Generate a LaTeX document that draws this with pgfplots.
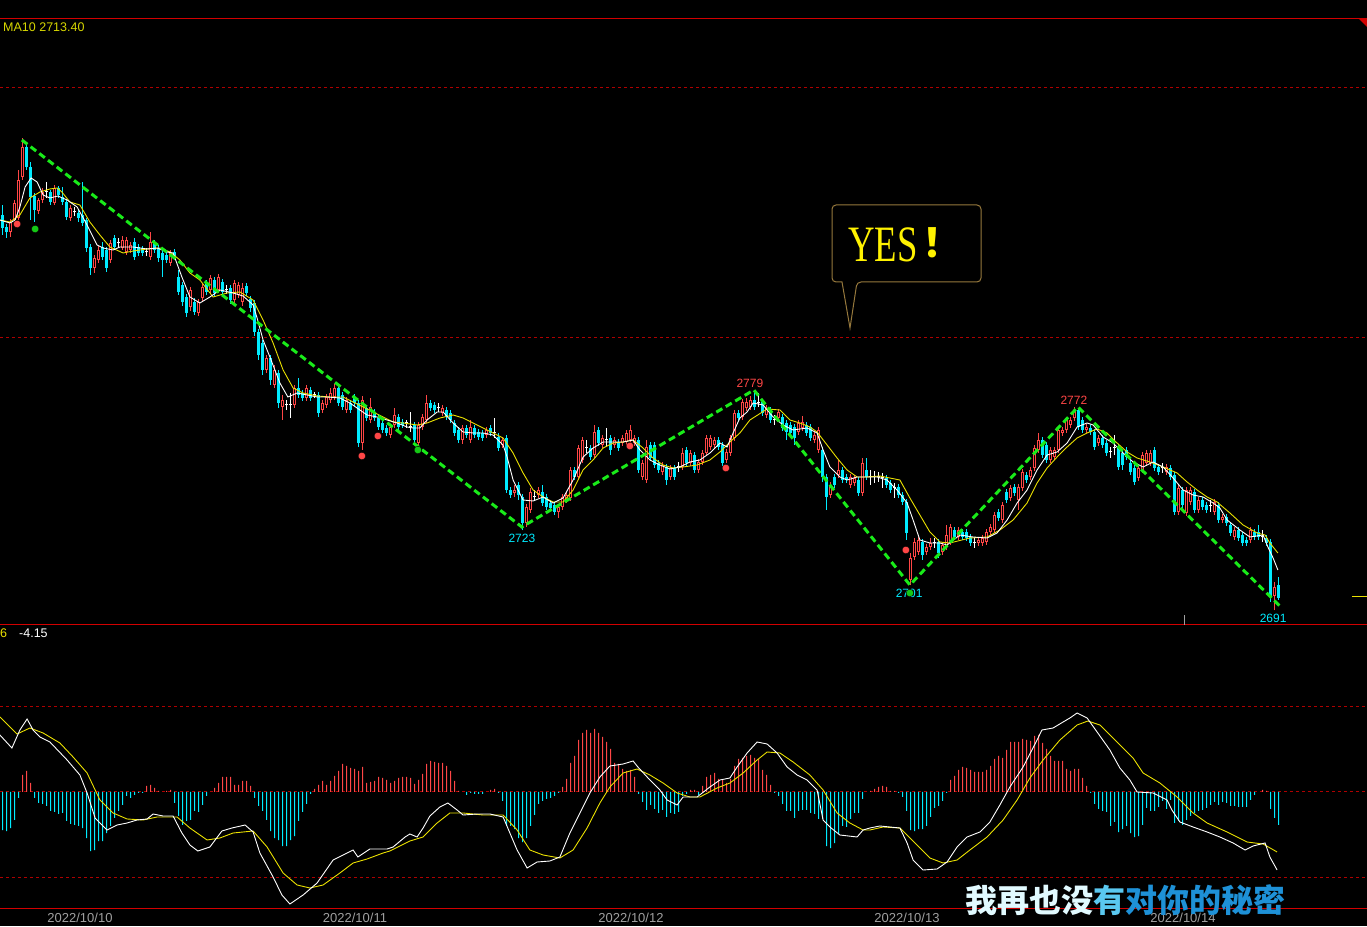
\documentclass[border=0pt]{standalone}
\usepackage{pgfplots}
\pgfplotsset{compat=1.18}
\usepackage{pgfplotstable}
\usepackage{fontspec}
\setmainfont{Liberation Sans}
\newfontfamily\cjk{Noto Sans CJK SC}
\newfontfamily\yesfont{Liberation Serif}

\definecolor{upred}{RGB}{255,70,70}
\definecolor{dncyan}{RGB}{0,235,255}
\definecolor{gridred}{RGB}{175,0,0}
\definecolor{linered}{RGB}{210,0,0}
\definecolor{zig}{RGB}{25,235,25}
\definecolor{mayel}{RGB}{235,225,0}
\definecolor{datagray}{RGB}{160,160,160}
\definecolor{boxgold}{RGB}{150,120,60}
\definecolor{malabel}{RGB}{215,215,0}

% i open high low close macd-histogram
\pgfplotstableread{
i o h l c m
0 2849.2 2853.2 2841.2 2844.0 -3.8
1 2844.4 2845.6 2840.0 2842.4 -3.9
2 2842.4 2847.6 2840.4 2846.4 -3.6
3 2847.2 2855.2 2845.6 2854.0 -2.8
4 2848.0 2867.2 2847.2 2863.2 -0.6
5 2864.4 2880.0 2863.2 2876.4 1.7
6 2876.4 2877.2 2867.2 2868.4 2.1
7 2868.4 2870.4 2847.2 2856.4 0.9
8 2856.8 2858.0 2846.4 2851.2 -0.6
9 2850.8 2856.0 2849.6 2855.2 -1.1
10 2855.2 2860.0 2854.0 2858.4 -1.2
11 2858.4 2862.4 2856.0 2858.4 -1.4
12 2858.4 2859.2 2853.2 2854.4 -1.9
13 2854.0 2861.2 2853.2 2860.0 -2.0
14 2860.0 2860.8 2856.0 2857.2 -2.2
15 2856.4 2860.4 2853.2 2854.4 -2.1
16 2854.4 2855.6 2847.2 2848.4 -2.9
17 2848.0 2853.2 2846.8 2852.0 -3.2
18 2850.4 2852.4 2848.8 2850.4 -3.3
19 2850.0 2851.2 2846.4 2848.0 -3.4
20 2849.2 2862.4 2844.8 2846.0 -3.6
21 2847.2 2848.0 2834.4 2836.0 -4.6
22 2836.4 2837.6 2825.2 2828.0 -5.9
23 2828.0 2833.2 2826.0 2832.0 -5.8
24 2831.2 2836.8 2830.0 2835.2 -4.9
25 2836.4 2838.4 2831.2 2832.4 -4.9
26 2835.2 2836.4 2826.4 2828.0 -4.1
27 2831.2 2839.2 2830.0 2838.0 -3.4
28 2840.0 2841.2 2835.2 2836.4 -2.6
29 2838.0 2840.0 2836.0 2838.0 -1.9
30 2836.0 2840.8 2835.2 2839.2 -1.3
31 2834.4 2840.4 2833.2 2839.2 -0.4
32 2835.2 2838.4 2834.0 2837.2 -0.6
33 2838.4 2840.0 2831.2 2832.4 -0.3
34 2836.4 2837.6 2832.8 2834.0 -0.1
35 2836.0 2836.8 2832.8 2834.0 -0.1
36 2834.4 2836.0 2832.8 2834.4 0.6
37 2832.4 2842.4 2831.2 2838.4 0.7
38 2838.0 2839.2 2834.0 2835.2 0.4
39 2836.0 2837.2 2830.4 2832.0 0.1
40 2834.0 2835.2 2824.4 2831.2 0
41 2833.2 2834.4 2830.0 2831.2 0.1
42 2830.0 2835.2 2828.8 2834.0 0.2
43 2834.4 2835.6 2831.2 2832.4 -1.1
44 2824.4 2827.2 2817.2 2818.4 -2.4
45 2821.2 2822.4 2812.8 2814.4 -3.3
46 2816.4 2817.6 2808.4 2810.0 -2.9
47 2812.4 2820.4 2810.8 2819.2 -2.8
48 2814.4 2816.0 2809.2 2810.4 -1.9
49 2810.0 2815.6 2808.8 2814.4 -2.0
50 2816.0 2821.6 2814.8 2820.4 -1.3
51 2822.0 2823.2 2817.2 2818.4 -0.4
52 2819.2 2825.2 2818.0 2824.0 0
53 2823.2 2824.4 2816.8 2818.0 0.4
54 2819.2 2825.6 2818.0 2824.4 0.9
55 2822.4 2823.6 2817.2 2818.4 1.5
56 2819.2 2821.2 2817.6 2819.2 1.5
57 2820.0 2821.2 2813.6 2815.2 1.5
58 2815.2 2823.2 2814.0 2822.0 0.7
59 2817.2 2822.4 2816.0 2821.2 0.7
60 2814.4 2822.0 2812.8 2820.0 1.1
61 2820.8 2822.0 2816.8 2818.0 1.1
62 2815.6 2816.8 2810.4 2812.0 0.6
63 2814.0 2815.2 2800.8 2802.4 -0.6
64 2802.4 2803.6 2791.2 2793.2 -1.4
65 2798.0 2799.2 2785.2 2787.2 -1.9
66 2787.2 2793.2 2786.0 2792.0 -2.8
67 2792.0 2793.2 2781.2 2783.2 -3.9
68 2781.2 2789.2 2780.0 2787.2 -4.6
69 2786.0 2787.2 2772.0 2774.0 -4.8
70 2772.4 2777.2 2767.2 2775.2 -5.4
71 2773.2 2775.2 2771.2 2773.2 -5.4
72 2773.2 2778.0 2768.0 2773.2 -4.8
73 2773.2 2781.2 2772.0 2780.0 -4.4
74 2780.0 2784.0 2776.0 2777.2 -2.9
75 2778.0 2779.2 2774.8 2776.0 -2.0
76 2776.0 2781.2 2774.8 2780.0 -1.2
77 2779.2 2780.4 2774.8 2776.0 -0.2
78 2777.2 2778.4 2776.0 2777.2 0.3
79 2777.2 2778.4 2768.4 2770.0 0.7
80 2771.2 2775.2 2770.0 2774.0 1.1
81 2773.2 2777.6 2772.0 2776.4 0.7
82 2775.2 2780.0 2774.0 2778.0 1.1
83 2776.4 2781.6 2775.2 2780.0 1.6
84 2780.0 2781.2 2772.8 2774.0 2.1
85 2777.2 2778.4 2771.2 2772.4 2.8
86 2771.2 2776.4 2770.0 2775.2 2.6
87 2774.0 2775.2 2770.0 2771.2 2.4
88 2776.4 2777.6 2772.8 2774.0 2.3
89 2774.0 2775.2 2756.4 2758.0 2.1
90 2758.0 2776.8 2755.2 2775.2 2.5
91 2772.0 2773.2 2766.8 2768.0 0.9
92 2767.2 2776.0 2766.0 2772.4 1.0
93 2770.4 2771.6 2766.8 2768.0 1.1
94 2768.0 2769.2 2763.2 2764.4 1.5
95 2766.0 2767.2 2762.0 2763.2 1.4
96 2764.0 2765.2 2760.8 2762.0 1.2
97 2761.2 2765.6 2760.0 2764.4 0.9
98 2765.2 2772.0 2764.0 2769.2 1.1
99 2768.4 2769.6 2763.2 2764.4 1.4
100 2766.4 2767.6 2764.0 2765.2 1.5
101 2766.0 2767.2 2764.0 2766.0 1.5
102 2764.4 2770.4 2762.4 2764.4 1.4
103 2765.2 2766.4 2758.0 2759.2 0.8
104 2758.0 2766.4 2756.8 2765.2 1.2
105 2764.4 2769.6 2763.2 2768.4 1.8
106 2767.2 2777.2 2766.0 2774.0 2.8
107 2774.0 2775.2 2770.8 2772.0 3.1
108 2773.2 2774.4 2770.0 2771.2 3.0
109 2772.0 2774.0 2770.4 2772.0 2.9
110 2770.0 2773.2 2768.8 2772.0 2.9
111 2771.2 2772.4 2767.2 2768.4 2.6
112 2770.0 2771.2 2766.0 2767.2 2.1
113 2766.0 2767.2 2760.8 2762.0 1.1
114 2763.2 2764.4 2758.0 2759.2 0.1
115 2759.2 2765.2 2757.6 2764.0 0
116 2764.0 2765.2 2760.0 2761.2 -0.3
117 2759.2 2767.2 2758.0 2764.4 -0.1
118 2764.0 2765.2 2760.0 2761.2 -0.2
119 2762.4 2763.6 2759.2 2760.4 -0.2
120 2762.0 2763.2 2758.8 2760.0 -0.2
121 2761.2 2764.4 2760.0 2763.2 0
122 2764.0 2765.2 2760.8 2762.0 0.2
123 2762.0 2768.0 2760.0 2762.0 0.3
124 2760.4 2762.0 2754.8 2756.0 -0.1
125 2757.2 2760.4 2756.0 2759.2 -0.9
126 2760.0 2761.2 2738.0 2739.2 -3.4
127 2739.2 2740.4 2736.0 2737.2 -3.4
128 2738.0 2741.2 2736.4 2739.2 -3.7
129 2741.2 2742.4 2735.2 2737.2 -4.6
130 2736.4 2737.6 2723.0 2726.0 -5.0
131 2726.0 2733.6 2724.4 2732.4 -4.6
132 2731.2 2740.0 2730.0 2738.4 -3.4
133 2736.4 2739.2 2735.2 2736.4 -2.3
134 2737.2 2740.4 2736.0 2739.2 -1.2
135 2738.4 2741.2 2732.8 2734.0 -0.9
136 2736.4 2737.6 2731.2 2732.4 -0.7
137 2734.0 2735.2 2730.8 2732.0 -0.6
138 2733.2 2734.4 2729.2 2730.4 -0.4
139 2730.4 2733.6 2728.0 2732.4 -0.1
140 2732.4 2737.6 2731.2 2736.4 0.5
141 2735.2 2738.4 2734.0 2737.2 1.3
142 2736.0 2748.4 2734.8 2747.2 2.9
143 2747.2 2748.4 2743.2 2744.4 3.6
144 2744.4 2757.2 2743.2 2756.0 5.2
145 2751.2 2760.4 2750.0 2759.2 5.9
146 2756.0 2759.2 2754.0 2756.0 6.2
147 2756.0 2757.2 2751.2 2752.4 5.9
148 2753.2 2765.2 2752.0 2762.4 6.3
149 2763.2 2764.4 2756.8 2758.0 5.9
150 2757.2 2761.2 2756.0 2760.0 5.5
151 2759.2 2764.0 2756.4 2759.2 5.0
152 2760.0 2761.2 2753.2 2755.2 4.3
153 2757.2 2760.4 2756.0 2759.2 2.9
154 2758.4 2759.6 2754.8 2756.0 2.8
155 2758.0 2761.2 2756.8 2760.0 2.3
156 2758.4 2763.2 2757.2 2762.0 2.1
157 2759.2 2765.2 2758.0 2763.2 2.2
158 2758.0 2761.2 2756.8 2760.0 1.5
159 2759.2 2760.4 2746.0 2747.2 -0.2
160 2744.4 2751.2 2743.2 2750.0 -1.0
161 2743.2 2759.2 2742.0 2756.4 -1.8
162 2757.2 2758.4 2750.8 2752.0 -1.3
163 2757.2 2758.4 2748.0 2749.2 -1.7
164 2750.0 2751.2 2746.0 2747.2 -2.1
165 2746.4 2750.4 2745.2 2749.2 -1.8
166 2748.4 2749.6 2741.2 2743.2 -2.5
167 2744.4 2749.2 2743.2 2748.0 -2.1
168 2748.0 2749.2 2743.2 2744.4 -2.2
169 2748.4 2750.4 2746.4 2748.4 -2.0
170 2748.4 2756.0 2747.2 2754.0 -0.4
171 2755.2 2756.4 2748.8 2750.0 -0.2
172 2750.0 2755.2 2748.8 2754.0 0.2
173 2753.2 2754.4 2746.0 2747.2 0.2
174 2747.2 2751.6 2746.0 2750.4 -0.3
175 2750.4 2755.2 2749.2 2754.0 0.6
176 2754.0 2761.2 2752.8 2760.0 1.5
177 2756.4 2761.2 2755.2 2760.0 1.7
178 2757.2 2760.4 2756.0 2759.2 1.9
179 2759.2 2760.4 2755.2 2756.4 1.3
180 2757.2 2758.4 2748.8 2750.0 1.2
181 2751.2 2755.6 2750.0 2754.4 0.9
182 2754.0 2761.2 2752.8 2760.0 1.3
183 2760.0 2771.2 2758.8 2770.0 2.6
184 2770.0 2771.2 2766.8 2768.0 3.3
185 2768.4 2775.6 2767.2 2774.4 3.4
186 2772.0 2776.0 2770.8 2774.4 3.6
187 2772.4 2776.8 2771.2 2775.2 3.7
188 2775.2 2779.0 2771.2 2772.4 3.4
189 2774.0 2778.0 2772.4 2774.0 3.3
190 2774.4 2775.6 2768.8 2770.0 2.2
191 2769.2 2773.2 2768.0 2772.0 1.7
192 2771.2 2772.4 2766.0 2767.2 0.7
193 2767.2 2769.2 2765.2 2767.2 -0.1
194 2768.0 2771.6 2766.8 2770.4 -0.4
195 2768.4 2769.6 2762.8 2764.0 -1.2
196 2766.0 2767.2 2759.2 2762.4 -1.9
197 2765.2 2766.4 2760.8 2762.0 -1.9
198 2764.4 2765.6 2757.2 2760.0 -2.6
199 2762.4 2767.2 2761.2 2766.0 -1.9
200 2764.0 2768.8 2762.8 2766.4 -1.8
201 2765.2 2766.4 2760.8 2762.0 -1.8
202 2764.4 2765.6 2758.8 2760.0 -2.1
203 2759.2 2762.4 2758.0 2761.2 -2.2
204 2755.2 2764.4 2754.0 2763.2 -2.7
205 2755.2 2756.4 2742.4 2744.4 -2.7
206 2744.4 2745.6 2731.2 2736.4 -5.4
207 2737.2 2742.4 2736.0 2741.2 -5.6
208 2744.4 2745.6 2740.0 2741.2 -5.1
209 2745.2 2751.2 2744.0 2747.2 -4.2
210 2747.2 2748.4 2742.0 2743.2 -3.4
211 2744.4 2745.6 2742.0 2743.2 -3.5
212 2741.2 2745.6 2740.0 2744.4 -2.7
213 2742.0 2745.2 2740.8 2744.0 -2.1
214 2743.2 2744.4 2736.8 2738.0 -2.1
215 2738.0 2752.0 2736.8 2750.0 -0.7
216 2747.2 2752.0 2743.2 2744.4 0
217 2744.4 2747.2 2741.2 2744.4 0.1
218 2744.4 2746.8 2742.0 2744.4 0.3
219 2744.4 2746.4 2742.4 2744.4 0.5
220 2744.0 2746.0 2740.0 2744.0 0.6
221 2744.0 2745.2 2740.0 2741.2 0.5
222 2742.0 2743.2 2738.0 2739.2 0.1
223 2740.0 2742.0 2736.0 2740.0 0.1
224 2740.4 2741.6 2736.0 2737.2 -0.1
225 2737.2 2738.4 2733.2 2734.4 -0.5
226 2734.4 2735.6 2719.2 2722.0 -1.9
227 2703.2 2714.0 2701.0 2712.0 -3.8
228 2712.4 2720.0 2711.2 2718.4 -3.9
229 2714.4 2720.4 2713.2 2719.2 -3.7
230 2718.4 2719.6 2711.2 2713.2 -3.7
231 2714.4 2717.6 2713.2 2716.4 -3.4
232 2716.4 2720.0 2715.2 2718.0 -2.5
233 2718.0 2720.0 2716.0 2718.0 -1.6
234 2718.4 2719.6 2712.0 2714.0 -1.4
235 2714.4 2718.4 2713.2 2717.2 -0.9
236 2716.4 2725.2 2715.2 2721.2 -0.1
237 2718.4 2725.6 2717.2 2724.4 1.2
238 2723.2 2724.4 2719.2 2720.4 1.6
239 2720.4 2724.4 2719.2 2723.2 2.2
240 2722.4 2723.6 2719.2 2720.4 2.5
241 2722.4 2723.6 2718.8 2720.0 2.4
242 2720.4 2721.6 2716.8 2718.0 2.2
243 2718.0 2720.0 2716.0 2718.0 2.0
244 2718.0 2720.4 2716.8 2719.2 2.0
245 2718.0 2721.2 2716.8 2720.0 2.0
246 2718.4 2723.6 2717.2 2722.4 2.2
247 2722.4 2725.6 2721.2 2724.4 2.6
248 2723.2 2730.4 2722.0 2729.2 3.3
249 2730.4 2731.6 2726.8 2728.0 3.6
250 2727.2 2734.4 2726.0 2733.2 3.4
251 2738.4 2739.6 2734.0 2735.2 4.2
252 2736.0 2741.2 2734.8 2740.0 5.0
253 2740.4 2741.6 2736.8 2738.0 5.0
254 2735.2 2741.6 2731.2 2740.4 5.0
255 2740.0 2747.6 2738.8 2746.4 5.3
256 2745.2 2746.4 2742.0 2743.2 5.2
257 2744.4 2748.4 2743.2 2747.2 5.1
258 2748.0 2757.2 2746.8 2756.0 5.6
259 2755.2 2762.0 2754.0 2759.2 5.7
260 2759.2 2760.4 2752.0 2753.2 4.9
261 2757.2 2758.4 2750.0 2751.2 4.3
262 2751.2 2756.4 2750.0 2755.2 3.6
263 2752.4 2756.4 2751.2 2755.2 3.1
264 2755.2 2764.4 2754.0 2763.2 3.1
265 2762.0 2764.4 2760.8 2763.2 3.1
266 2763.2 2768.4 2762.0 2767.2 2.3
267 2765.2 2768.4 2764.0 2767.2 2.1
268 2768.0 2772.4 2766.8 2771.2 2.3
269 2771.2 2772.0 2763.2 2764.4 2.3
270 2767.2 2768.4 2762.0 2763.2 1.4
271 2763.2 2765.6 2762.0 2764.4 0.6
272 2764.0 2765.2 2761.2 2762.4 -0.1
273 2762.4 2763.6 2755.2 2756.4 -1.2
274 2758.0 2761.2 2756.8 2760.0 -1.7
275 2760.0 2761.2 2756.0 2757.2 -1.9
276 2758.0 2759.2 2752.8 2754.0 -2.0
277 2754.4 2756.4 2752.0 2754.4 -3.4
278 2756.0 2761.2 2753.2 2756.0 -3.0
279 2756.4 2757.6 2747.2 2748.4 -4.0
280 2754.0 2755.2 2747.2 2749.2 -3.7
281 2755.2 2756.4 2751.2 2752.4 -3.4
282 2750.0 2751.2 2745.2 2746.4 -4.1
283 2748.0 2749.2 2741.2 2742.4 -4.5
284 2744.0 2749.2 2742.8 2748.0 -4.4
285 2747.2 2754.4 2746.0 2753.2 -3.3
286 2750.0 2755.2 2748.8 2754.0 -1.6
287 2750.0 2755.2 2748.8 2754.0 -1.9
288 2755.2 2756.4 2746.8 2748.0 -1.9
289 2748.4 2749.6 2745.2 2746.4 -1.5
290 2748.0 2750.0 2746.0 2748.0 -0.9
291 2746.4 2749.6 2745.2 2748.4 -1.7
292 2748.0 2749.2 2743.2 2744.4 -0.8
293 2745.2 2746.4 2729.2 2730.4 -3.1
294 2730.4 2741.2 2729.2 2740.0 -2.9
295 2739.2 2740.4 2732.0 2733.2 -3.3
296 2730.0 2740.4 2728.8 2739.2 -2.8
297 2734.4 2740.4 2733.2 2739.2 -2.4
298 2738.4 2739.6 2730.0 2731.2 -2.1
299 2731.2 2736.4 2730.0 2735.2 -1.9
300 2735.2 2736.4 2731.2 2732.4 -1.8
301 2733.2 2734.4 2730.0 2731.2 -1.6
302 2732.8 2735.2 2730.4 2732.8 -1.3
303 2730.4 2735.6 2729.2 2734.4 -1.0
304 2733.2 2734.4 2726.0 2727.2 -1.3
305 2727.2 2729.6 2726.0 2728.4 -1.0
306 2728.4 2729.6 2724.8 2726.0 -1.1
307 2725.2 2726.4 2720.8 2722.0 -1.4
308 2720.4 2724.4 2719.2 2723.2 -1.4
309 2723.2 2724.4 2718.8 2720.0 -1.5
310 2721.2 2722.4 2716.8 2718.0 -1.5
311 2719.2 2720.4 2716.8 2718.0 -1.5
312 2719.2 2724.4 2718.0 2723.2 -0.8
313 2722.4 2723.6 2719.2 2720.4 -0.3
314 2722.4 2725.2 2719.2 2720.4 0
315 2720.4 2723.2 2718.4 2720.4 0.2
316 2720.0 2721.2 2716.8 2718.0 0.1
317 2718.4 2719.6 2694.4 2696.4 -1.7
318 2696.8 2702.4 2691.0 2700.4 -2.6
319 2701.2 2704.4 2695.2 2696.0 -3.3
}\candles

% MA10 (yellow)
\pgfplotstableread{
x y
-0.7 2847.2
1.8 2846.4
4.3 2849.2
6.8 2856.0
9.3 2858.4
11.8 2859.6
13.6 2860.0
14.8 2858.4
16.8 2854.4
19.3 2853.2
21.8 2846.4
24.3 2841.2
26.8 2836.4
30.1 2834.0
32.6 2834.8
36.1 2835.6
39.3 2836.0
41.8 2834.4
44.3 2831.2
46.8 2826.0
49.3 2823.2
52.6 2816.4
56.1 2818.0
59.3 2818.4
62.6 2815.2
65.1 2807.2
67.6 2798.0
70.1 2787.2
72.6 2780.0
75.1 2778.0
78.6 2776.8
81.8 2776.4
85.1 2776.4
87.6 2774.4
90.1 2772.4
92.6 2770.4
95.1 2768.4
97.6 2766.4
100.1 2766.0
103.6 2765.2
106.1 2766.0
109.3 2768.0
112.6 2769.2
115.1 2768.0
117.6 2766.0
120.1 2764.0
122.6 2762.0
125.1 2760.0
127.6 2754.0
130.1 2746.0
132.6 2739.2
135.1 2736.4
137.6 2734.4
140.1 2734.4
142.6 2739.2
145.1 2747.2
147.6 2751.2
150.1 2756.0
152.6 2758.0
155.1 2758.4
157.6 2759.2
160.1 2756.0
162.6 2752.0
165.1 2749.2
167.6 2748.0
170.1 2748.4
173.6 2749.2
176.8 2751.2
179.3 2754.4
181.8 2758.4
184.3 2762.0
186.8 2767.2
191.1 2771.6
194.3 2771.2
196.8 2767.2
199.3 2766.0
201.8 2764.4
203.6 2762.4
206.1 2757.2
208.6 2752.0
211.1 2747.2
213.6 2744.4
216.1 2744.4
219.3 2744.8
221.8 2744.0
224.3 2743.2
226.8 2736.0
229.3 2729.2
231.8 2722.4
234.3 2718.4
236.8 2718.0
241.8 2720.0
246.1 2720.4
249.3 2723.2
252.6 2727.2
256.1 2734.0
258.6 2742.0
261.1 2748.0
263.6 2752.4
266.1 2756.4
268.6 2760.0
271.1 2762.0
273.6 2763.6
276.1 2762.0
278.6 2758.0
281.1 2754.4
283.6 2752.0
286.8 2750.4
290.1 2748.4
293.6 2746.0
296.1 2742.4
298.6 2739.2
301.1 2736.4
303.6 2734.4
306.8 2730.0
310.1 2725.2
313.6 2722.0
315.6 2721.2
316.8 2718.0
318.8 2714.0
}\maY

% MA5 (white)
\pgfplotstableread{
x y
-0.7 2847.2
1.8 2846.0
3.1 2847.2
4.3 2852.4
5.6 2860.4
7.1 2864.0
8.6 2862.4
10.1 2857.2
11.8 2856.0
13.8 2856.8
16.1 2855.2
18.6 2852.4
21.1 2845.2
23.6 2837.2
25.1 2836.0
27.6 2835.2
29.3 2836.4
32.6 2836.4
36.1 2835.6
38.6 2836.0
41.1 2834.4
42.6 2834.0
44.8 2824.4
46.8 2816.4
49.3 2814.0
51.8 2816.4
54.3 2819.2
57.6 2818.0
60.1 2816.8
62.6 2813.2
63.6 2808.0
65.1 2799.2
66.8 2792.4
69.3 2782.0
71.3 2776.4
73.6 2778.0
76.1 2777.2
78.6 2776.4
81.1 2776.4
84.3 2776.0
86.8 2774.0
89.3 2771.2
91.1 2769.2
93.6 2768.4
96.1 2767.2
98.6 2766.0
101.1 2764.4
102.6 2764.0
104.3 2764.0
106.1 2767.2
108.6 2770.4
110.1 2770.4
112.6 2766.0
115.1 2762.4
117.6 2762.0
120.1 2762.0
122.6 2761.2
125.1 2757.2
126.1 2752.4
127.6 2743.2
130.1 2735.2
132.6 2734.8
135.1 2736.4
137.6 2734.0
140.1 2736.0
142.6 2743.2
145.1 2752.4
147.6 2756.0
150.1 2758.4
152.6 2758.4
155.1 2758.4
157.6 2759.2
159.3 2755.2
161.8 2751.2
164.3 2749.2
166.8 2747.6
169.3 2748.4
171.8 2750.4
174.3 2751.2
176.8 2754.0
179.3 2758.0
181.1 2756.4
182.6 2762.0
184.3 2768.0
186.1 2770.4
187.6 2774.0
190.1 2773.2
192.6 2768.4
195.1 2765.2
197.6 2763.2
201.1 2764.0
203.6 2762.0
205.1 2755.2
206.8 2748.4
209.3 2744.4
211.1 2743.2
213.6 2744.4
216.1 2744.4
218.6 2744.4
221.1 2743.2
223.6 2739.2
226.1 2734.0
227.6 2727.2
229.3 2719.2
231.8 2718.0
234.3 2718.0
236.1 2717.2
239.3 2721.2
242.6 2720.4
246.1 2720.0
248.6 2722.0
251.1 2727.2
253.6 2734.0
256.1 2739.2
258.6 2747.2
261.1 2753.2
263.6 2754.4
266.1 2758.0
268.6 2764.4
271.1 2766.0
272.6 2765.2
275.1 2760.4
277.6 2758.0
280.1 2754.0
282.6 2750.4
285.1 2748.4
287.6 2750.4
290.1 2748.4
292.6 2744.0
295.1 2739.2
297.6 2737.2
300.1 2736.4
302.6 2734.0
304.3 2732.0
306.1 2727.2
309.3 2723.2
311.8 2720.4
315.1 2721.2
316.3 2716.4
317.6 2712.0
318.8 2707.2
}\maW

% DEA (yellow)
\pgfplotstableread{
x y
-0.7 7.5
3.6 5.8
6.8 6.4
10.1 5.9
14.3 4.9
17.6 3.5
21.1 1.9
24.3 -0.8
27.6 -2.1
31.1 -2.7
35.1 -2.8
38.6 -2.5
43.6 -2.5
46.8 -3.6
51.1 -4.8
54.3 -4.6
57.6 -4.1
62.6 -3.9
66.1 -5.5
70.1 -8.1
73.6 -9.3
76.8 -9.6
80.1 -9.3
84.3 -8.1
87.6 -7.1
91.1 -6.7
95.1 -6.1
96.8 -5.9
101.8 -4.9
105.1 -4.5
108.6 -3.1
111.8 -2.1
115.1 -2.1
120.1 -2.3
125.1 -2.3
128.6 -3.8
131.8 -5.8
135.1 -6.3
139.3 -6.6
142.6 -5.8
146.1 -3.6
149.3 -1.1
151.8 0.5
155.1 1.9
158.6 2.3
161.8 1.7
165.1 0.9
168.6 -0.1
171.8 -0.5
174.3 -0.5
178.6 0.4
181.8 0.9
185.1 1.9
188.6 3.2
191.1 4.0
194.3 3.9
197.6 3.0
201.8 1.7
205.1 0.2
208.6 -2.1
211.8 -3.1
215.1 -3.8
216.8 -3.8
220.1 -3.5
224.3 -3.6
228.6 -5.3
231.8 -6.6
235.1 -7.1
238.6 -6.8
241.8 -5.8
246.1 -4.5
250.1 -2.8
253.6 -0.8
256.8 1.4
260.1 3.2
264.3 5.2
268.6 6.7
271.3 7.1
274.3 6.7
278.6 5.0
282.6 3.4
285.1 1.9
289.3 0.9
293.6 -0.5
297.6 -2.1
301.1 -3.1
306.1 -4.0
311.1 -5.0
315.1 -5.2
318.6 -6.0
}\dea

% DIF (white)
\pgfplotstableread{
x y
-0.7 5.7
2.3 4.4
4.3 6.2
6.1 7.3
7.6 6.2
9.3 5.5
11.8 5.0
16.1 3.2
19.3 1.7
21.1 -0.1
23.1 -2.6
26.1 -3.8
28.6 -3.3
31.1 -3.1
33.6 -2.8
36.1 -2.7
37.6 -2.2
40.1 -2.4
42.6 -2.4
44.8 -4.1
46.8 -5.3
48.8 -5.9
51.8 -5.5
54.8 -3.9
57.3 -3.6
60.6 -3.3
62.6 -4.0
64.3 -6.1
67.6 -8.5
69.8 -10.3
71.8 -11.2
75.1 -10.3
78.6 -9.1
82.6 -6.8
87.6 -5.8
88.8 -6.5
91.8 -5.7
96.1 -5.7
97.6 -5.5
100.6 -4.5
101.8 -4.2
103.6 -4.5
105.1 -3.6
106.8 -2.4
109.3 -1.5
111.3 -1.1
113.6 -1.8
115.1 -2.3
118.6 -2.2
121.8 -2.2
125.1 -2.5
126.8 -4.1
128.6 -5.8
131.1 -7.6
133.6 -7.0
136.8 -6.9
139.3 -6.5
141.8 -4.1
144.3 -2.1
146.8 -0.1
149.3 1.5
151.8 2.6
155.1 2.8
157.6 3.1
158.8 2.5
161.8 1.2
164.3 0.2
166.1 -0.8
168.6 -1.3
170.1 -0.5
173.6 -0.5
176.8 0.5
179.3 1.2
181.8 1.4
183.6 2.5
186.1 3.9
188.6 5.0
191.1 4.8
193.6 3.9
196.1 2.5
198.6 1.7
201.1 1.2
203.6 0.2
205.1 -2.8
206.8 -3.5
209.3 -4.3
213.6 -4.5
215.1 -3.8
216.8 -3.6
219.3 -3.4
224.3 -3.6
226.1 -5.1
227.6 -6.8
230.1 -7.8
233.6 -7.7
236.1 -7.0
238.6 -5.5
241.1 -4.5
244.3 -4.0
246.8 -3.0
249.3 -1.3
251.8 0.5
255.1 2.5
258.6 5.2
259.8 6.2
262.6 6.4
265.1 7.0
266.8 7.4
268.6 7.9
271.1 7.4
273.6 6.0
276.8 4.2
279.3 2.4
281.8 1.2
283.6 0.0
287.6 -0.1
291.1 -0.8
292.3 -1.8
294.3 -3.0
297.6 -3.5
301.1 -4.0
304.3 -4.5
307.6 -5.1
310.6 -5.8
312.6 -5.4
315.6 -5.1
316.8 -6.5
318.6 -7.8
}\dif

\pgfplotsset{
  ebar/.style 2 args={draw=none, mark=none, forget plot,
    error bars/y dir=plus, error bars/y explicit, error bars/error mark=none,
    error bars/error bar style={draw=#1, solid, line width=#2}},
  isup/.style={x filter/.expression={\thisrow{c}-\thisrow{o}>0.01 ? x : nan}},
  isupbig/.style={x filter/.expression={\thisrow{c}-\thisrow{o}>1.0 ? x : nan}},
  isdn/.style={x filter/.expression={\thisrow{o}-\thisrow{c}>0.01 ? x : nan}},
  isdoji/.style={x filter/.expression={abs(\thisrow{c}-\thisrow{o})<0.01 ? x : nan}},
  redgrid/.style={ymajorgrids,
    grid style={draw=gridred, line width=1pt, dash pattern=on 3pt off 3pt},
    major grid style={draw=gridred, line width=1pt, dash pattern=on 3pt off 3pt}},
}

\begin{document}
\begin{tikzpicture}[x=1pt,y=1pt]
\fill[black] (0pt,0pt) rectangle (1367pt,926pt);

% ---------------- upper panel: price ----------------
\begin{axis}[at={(0pt,301pt)}, anchor=south west, scale only axis,
  width=1367pt, height=607pt,
  xmin=-0.675, xmax=341.075, ymin=2685.2, ymax=2928.0,
  axis line style={draw=none}, xtick=\empty,
  ytick={2800,2900}, yticklabel={}, major tick length=0pt,
  redgrid, unbounded coords=discard]
\addplot[isdn, ebar={dncyan}{1pt}] table[x=i, y=l, y error plus expr=\thisrow{h}-\thisrow{l}] {\candles};
\addplot[isup, ebar={upred}{1pt}] table[x=i, y=l, y error plus expr=\thisrow{h}-\thisrow{l}] {\candles};
\addplot[isdoji, ebar={white}{1pt}] table[x=i, y=l, y error plus expr=\thisrow{h}-\thisrow{l}] {\candles};
\addplot[isdn, ebar={dncyan}{3pt}] table[x=i, y=c, y error plus expr=\thisrow{o}-\thisrow{c}] {\candles};
\addplot[isup, ebar={upred}{3pt}] table[x=i, y=o, y error plus expr=\thisrow{c}-\thisrow{o}] {\candles};
\addplot[isupbig, ebar={black}{1pt}] table[x=i, y expr=\thisrow{o}+0.4, y error plus expr=\thisrow{c}-\thisrow{o}-0.8] {\candles};
\addplot[isdoji, ebar={white}{3pt}] table[x=i, y expr=\thisrow{o}-0.2, y error plus expr=0.4] {\candles};
\addplot[mayel, line width=0.9pt] table {\maY};
\addplot[white, line width=0.9pt] table {\maW};
\addplot[zig, line width=3pt, dash pattern=on 7pt off 4pt] coordinates {
(4.8,2879.2) (129.8,2724.4) (187.8,2779.2) (226.8,2701.2) (268.8,2772.4) (319.8,2692.0)};
\addplot[only marks, mark=*, mark size=3.8pt, mark options={draw=none, fill=upred}] coordinates {
(3.6,2845.6) (89.8,2752.8) (93.8,2760.8) (156.8,2756.8) (180.8,2748.0) (225.8,2715.2)};
\addplot[only marks, mark=*, mark size=3.8pt, mark options={draw=none, fill=zig!85!black}] coordinates {
(8.1,2843.6) (103.8,2755.2) (226.8,2698.0)};
\node[text=upred, font=\fontsize{12}{12}\selectfont] at (axis cs:186.8,2782.0) {2779};
\node[text=dncyan, font=\fontsize{12}{12}\selectfont] at (axis cs:129.8,2720.0) {2723};
\node[text=dncyan, font=\fontsize{12}{12}\selectfont] at (axis cs:226.6,2698.0) {2701};
\node[text=upred, font=\fontsize{12}{12}\selectfont] at (axis cs:267.8,2775.2) {2772};
\node[text=dncyan, font=\fontsize{12}{12}\selectfont] at (axis cs:317.6,2688.0) {2691};
\end{axis}

% ---------------- lower panel: MACD ----------------
\begin{axis}[at={(0pt,18pt)}, anchor=south west, scale only axis,
  width=1367pt, height=283pt,
  xmin=-0.675, xmax=341.075, ymin=-11.6, ymax=16.7,
  axis line style={draw=none}, xtick=\empty,
  ytick={-8.5,0,8.5}, yticklabel={}, major tick length=0pt,
  redgrid, unbounded coords=discard]
\addplot[ybar, bar width=1pt, bar shift=0pt, draw=none, fill=upred,
  y filter/.expression={y>0 ? y : nan}] table[x=i, y=m] {\candles};
\addplot[ybar, bar width=1pt, bar shift=0pt, draw=none, fill=dncyan,
  y filter/.expression={y<0 ? y : nan}] table[x=i, y=m] {\candles};
\addplot[mayel, line width=0.9pt] table {\dea};
\addplot[white, line width=0.9pt] table {\dif};
\end{axis}

% panel frame lines
\draw[linered, line width=1pt] (0pt,907.5pt) -- (1367pt,907.5pt);
\draw[linered, line width=1pt] (0pt,301pt) -- (1367pt,301pt);
\draw[linered, line width=1pt] (0pt,18pt) -- (1367pt,18pt);
\fill[linered] (1359pt,907pt) -- (1367pt,907pt) -- (1367pt,899pt) -- cycle;
\draw[datagray, line width=1pt] (1184pt,301pt) -- (1184pt,311pt);
\draw[mayel, line width=1pt] (1352pt,329pt) -- (1367pt,329pt);

% header texts
\node[anchor=west, inner sep=0pt, text=malabel, font=\fontsize{12.5}{13}\selectfont] at (3pt,899pt) {MA10 2713.40};
\node[anchor=west, inner sep=0pt, text=mayel, font=\fontsize{12.5}{13}\selectfont] at (0pt,293pt) {6};
\node[anchor=west, inner sep=0pt, text=white, font=\fontsize{12.5}{13}\selectfont] at (19pt,293pt) {-4.15};

% dates
\foreach \xx/\dd in {80/2022\slash10\slash10, 355/2022\slash10\slash11, 631/2022\slash10\slash12, 907/2022\slash10\slash13, 1183/2022\slash10\slash14}
  \node[text=datagray, inner sep=0pt, font=\fontsize{13}{13}\selectfont] at (\xx pt,8pt) {\dd};

% callout
\draw[boxgold, line width=1pt, rounded corners=4pt]
  (832pt,721pt) -- (981pt,721pt) -- (981pt,644pt) -- (857pt,644pt)
  [sharp corners] -- (850pt,598pt) -- (842pt,644pt) [rounded corners=4pt] -- (832pt,644pt) -- cycle;
\node[anchor=base west, inner sep=0pt, text=yellow, xscale=0.72, font=\yesfont\fontsize{51}{51}\selectfont] at (848pt,664pt) {YES};
\node[anchor=base west, inner sep=0pt, text=yellow, font=\cjk\bfseries\fontsize{40}{40}\selectfont] at (922pt,668pt) {！};

% watermark
\node[anchor=center, inner sep=0pt, font=\cjk\bfseries\fontsize{32}{32}\selectfont] at (1125pt,26pt)
  {\textcolor[RGB]{225,250,255}{我再也没}\textcolor[RGB]{90,200,240}{有}\textcolor[RGB]{30,145,215}{对你的秘密}};

\pgfresetboundingbox
\useasboundingbox (0pt,0pt) rectangle (1367pt,926pt);
\end{tikzpicture}
\end{document}
